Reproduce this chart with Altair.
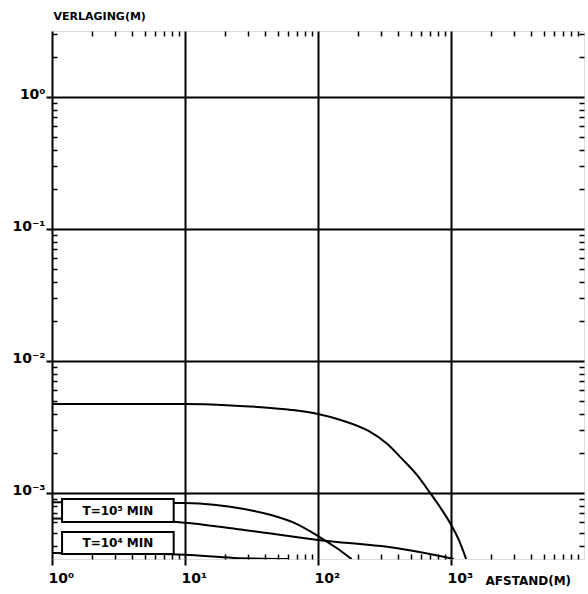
import altair as alt
import pandas as pd

# Distance (m) and drawdown (m) along each drawdown curve
a_x = [1, 10, 22.1, 37.4, 63.0, 100, 150, 240, 329, 427, 554, 683, 857, 1000, 1151, 1300]
a_y = [4.72e-3, 4.72e-3, 4.61e-3, 4.47e-3, 4.26e-3, 3.97e-3, 3.56e-3, 2.95e-3,
       2.37e-3, 1.82e-3, 1.37e-3, 1.03e-3, 7.41e-4, 5.76e-4, 4.36e-4, 3.16e-4]

b_x = [1, 10, 27.8, 44.4, 66.3, 100, 138, 179]
b_y = [8.5e-4, 8.4e-4, 7.56e-4, 6.81e-4, 5.93e-4, 4.72e-4, 3.83e-4, 3.16e-4]

c_x = [1, 8.2, 10, 27.8, 100, 427, 968, 1050]
c_y = [6.4e-4, 6.05e-4, 5.95e-4, 5.25e-4, 4.41e-4, 3.77e-4, 3.22e-4, 3.16e-4]

d_x = [1, 6.55, 10, 23.3, 60]
d_y = [3.51e-4, 3.45e-4, 3.4e-4, 3.22e-4, 3.16e-4]

# Boxed curve labels
box_x0 = [1.19, 1.19]
box_x1 = [8.22, 8.22]
box_y0 = [6.03e-4, 3.45e-4]
box_y1 = [9.0e-4, 5.07e-4]
box_text = ["T=10\u2075 MIN", "T=10\u2074 MIN"]

# Axis ticks
x_ticks = [1, 10, 100, 1000]
x_tick_labels = ["10\u2070", "10\u00b9", "10\u00b2", "10\u00b3"]
y_ticks = [1e-3, 1e-2, 1e-1, 1]
y_tick_labels = ["10\u207b\u00b3", "10\u207b\u00b2", "10\u207b\u00b9", "10\u2070"]
x_minor = [m * 10 ** k for k in range(0, 4) for m in range(2, 10)]
y_minor = [m * 10.0 ** k for k in range(-4, 1) for m in range(2, 10)
           if 10 ** -3.5 <= m * 10.0 ** k <= 10 ** 0.5]

curves = pd.concat([
    pd.DataFrame({"x": xs, "y": ys, "curve": name})
    for name, xs, ys in [("a", a_x, a_y), ("b", b_x, b_y), ("c", c_x, c_y), ("d", d_x, d_y)]
])
boxes = pd.DataFrame({
    "x0": box_x0, "x1": box_x1, "y0": box_y0, "y1": box_y1, "label": box_text,
})
boxes["xm"] = (boxes["x0"] * boxes["x1"]) ** 0.5
boxes["ym"] = (boxes["y0"] * boxes["y1"]) ** 0.5


def label_expr(values, labels):
    expr = "''"
    for v, lab in zip(values, labels):
        expr = f"abs(datum.value - {v!r}) < {v!r} * 1e-6 ? '{lab}' : ({expr})"
    return expr


FONT = "DejaVu Sans"
xscale = alt.Scale(type="log", domain=[1, 1e4], nice=False)
yscale = alt.Scale(type="log", domain=[10 ** -3.5, 10 ** 0.5], nice=False)

x_main = alt.X(
    "x:Q", scale=xscale,
    axis=alt.Axis(
        orient="bottom", values=x_ticks, labelExpr=label_expr(x_ticks, x_tick_labels),
        grid=True, gridColor="black", gridWidth=2, gridOpacity=1,
        domain=False, ticks=True, tickColor="black", tickWidth=2, tickSize=6,
        labelFont=FONT, labelFontSize=14, labelFontWeight="bold", labelColor="black",
        labelAlign="left", labelBaseline="top", labelOffset=-4, labelPadding=6,
        labelFlush=False, labelOverlap=False,
        title="AFSTAND(M)", titleFont=FONT, titleFontSize=12, titleFontWeight="bold",
        titleColor="black", titleAngle=0, titleAlign="left", titleBaseline="middle",
        titleX=433, titleY=21,
    ),
)
y_main = alt.Y(
    "y:Q", scale=yscale,
    axis=alt.Axis(
        orient="left", values=y_ticks, labelExpr=label_expr(y_ticks, y_tick_labels),
        grid=True, gridColor="black", gridWidth=2, gridOpacity=1,
        domain=False, ticks=True, tickColor="black", tickWidth=2, tickSize=6,
        labelFont=FONT, labelFontSize=14, labelFontWeight="bold", labelColor="black",
        labelAlign="right", labelBaseline="middle", labelOffset=-3, labelPadding=1,
        labelFlush=False, labelOverlap=False,
        title="VERLAGING(M)", titleFont=FONT, titleFontSize=11, titleFontWeight="bold",
        titleColor="black", titleAngle=0, titleAlign="left", titleBaseline="middle",
        titleX=1, titleY=-15,
    ),
)

lines = alt.Chart(curves).mark_line(
    color="black", strokeWidth=2, interpolate="monotone", clip=True
).encode(x=x_main, y=y_main, detail="curve:N")


def minor_axis(orient, values):
    return alt.Axis(
        orient=orient, values=values, labels=False, domain=False, grid=False,
        ticks=True, tickColor="black", tickWidth=1.5, tickSize=5, offset=-5, title=None,
    )


minor_bl = alt.Chart(curves).mark_point(opacity=0).encode(
    x=alt.X("x:Q", scale=xscale, axis=minor_axis("bottom", x_minor)),
    y=alt.Y("y:Q", scale=yscale, axis=minor_axis("left", y_minor)),
)
minor_tr = alt.Chart(curves).mark_point(opacity=0).encode(
    x=alt.X("x:Q", scale=xscale, axis=minor_axis("top", x_minor)),
    y=alt.Y("y:Q", scale=yscale, axis=minor_axis("right", y_minor)),
)

box_rects = alt.Chart(boxes).mark_rect(
    fill="white", stroke="black", strokeWidth=2
).encode(
    x=alt.X("x0:Q", scale=xscale, axis=None), x2="x1:Q",
    y=alt.Y("y0:Q", scale=yscale, axis=None), y2="y1:Q",
)
box_labels = alt.Chart(boxes).mark_text(
    font=FONT, fontSize=12, fontWeight="bold", color="black", baseline="middle", align="center"
).encode(
    x=alt.X("xm:Q", scale=xscale, axis=None),
    y=alt.Y("ym:Q", scale=yscale, axis=None),
    text="label:N",
)

chart = alt.layer(lines, minor_bl, minor_tr, box_rects, box_labels).resolve_axis(
    x="independent", y="independent"
).properties(
    width=532, height=528,
    autosize=alt.AutoSizeParams(type="none"),
    padding={"left": 52, "top": 31, "right": 4, "bottom": 35},
).configure_view(
    stroke="black", strokeWidth=2.5
).configure(background="white")

chart.save("out.html", embed_options={"renderer": "svg", "actions": False})
